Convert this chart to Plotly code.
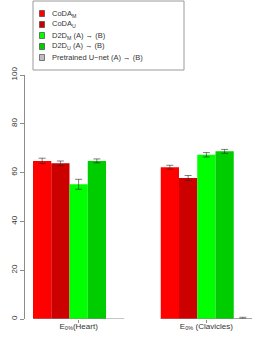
import plotly.graph_objects as go

categories = ["E<sub>0%</sub>(Heart)", "E<sub>0%</sub> (Clavicles)"]
series_names = ["CoDA<sub>M</sub>", "CoDA<sub>U</sub>",
                "D2D<sub>M</sub> (A) → (B)", "D2D<sub>U</sub> (A) → (B)",
                "Pretrained U−net (A) → (B)"]
coda_m = [64.8, 62.2]
coda_u = [63.8, 57.8]
d2d_m = [55.2, 67.3]
d2d_u = [64.8, 68.7]
unet = [None, 0.4]
coda_m_err = [1.1, 0.8]
coda_u_err = [0.95, 1.0]
d2d_m_err = [2.05, 0.9]
d2d_u_err = [0.8, 0.8]
unet_err = [None, 0.3]
y_ticks = [0, 20, 40, 60, 80, 100]

values = [coda_m, coda_u, d2d_m, d2d_u, unet]
errors = [coda_m_err, coda_u_err, d2d_m_err, d2d_u_err, unet_err]
colors = ["#FF0000", "#CD0000", "#00FF00", "#00CD00", "#BEBEBE"]

W, H = 266, 344
L, R, T, B = 25, 252, 75, 319
FONT = "Liberation Sans, Arial, sans-serif"


def px_x(p):
    return (p - L) / (R - L)


def px_y(p):
    return (B - p) / (B - T)


fig = go.Figure()
for name, vals, errs, col in zip(series_names, values, errors, colors):
    fig.add_trace(go.Bar(
        x=categories, y=vals, name=name,
        marker=dict(color=col, line=dict(width=0)),
        error_y=dict(type="data", array=errs, visible=True,
                     color="rgba(40,40,40,0.6)", thickness=1, width=3.5),
        showlegend=False,
    ))

# scale: 7 bar widths per category, 5 bars per group
half = 5 / 14
bar_px = (R - 33) / 12.0
left_unit = -half - (33 - L) / (bar_px * 7)

shapes = []
# separate x axis lines under each group
for i in range(len(categories)):
    shapes.append(dict(type="line", xref="x", yref="y",
                       x0=i - half, x1=i + half, y0=0, y1=0,
                       line=dict(color="#8c8c8c", width=1)))

# legend box
shapes.append(dict(type="rect", xref="paper", yref="paper",
                   x0=px_x(33), x1=px_x(184), y0=px_y(70), y1=px_y(1),
                   line=dict(color="#9a9a9a", width=1), fillcolor="white"))
annotations = []
rows = [13.5, 24.5, 35.5, 46.5, 57.5]
for name, col, ry in zip(series_names, colors, rows):
    shapes.append(dict(type="rect", xref="paper", yref="paper",
                       x0=px_x(39.5), x1=px_x(44.5),
                       y0=px_y(ry + 3), y1=px_y(ry - 3),
                       line=dict(color="#333333", width=0.6), fillcolor=col))
    annotations.append(dict(xref="paper", yref="paper", x=px_x(50), y=px_y(ry),
                            xanchor="left", yanchor="middle", text=name,
                            showarrow=False,
                            font=dict(size=7.5, color="#333333", family=FONT)))

fig.update_layout(
    width=W, height=H,
    margin=dict(l=L, r=W - R, t=T, b=H - B, pad=0, autoexpand=False),
    barmode="group", bargap=2 / 7, bargroupgap=0,
    plot_bgcolor="white", paper_bgcolor="white",
    font=dict(family=FONT, size=8, color="#333333"),
    shapes=shapes, annotations=annotations,
    xaxis=dict(type="category", range=[left_unit, 1 + half],
               automargin=False,
               showline=False, showgrid=False, zeroline=False,
               ticks="outside", ticklen=3, tickcolor="#8c8c8c",
               ticklabelstandoff=-4,
               tickfont=dict(size=8, color="#333333", family=FONT)),
    yaxis=dict(range=[0, 100], tickvals=y_ticks, showgrid=False,
               automargin=False,
               zeroline=False, showline=True, linecolor="#8c8c8c",
               linewidth=1, ticks="outside", ticklen=4,
               ticklabelstandoff=0,
               tickcolor="#8c8c8c", tickangle=-90,
               tickfont=dict(size=8, color="#333333", family=FONT)),
    showlegend=False,
)

fig.write_html("out.html",
               config={"displayModeBar": False},
               post_script="document.body.style.margin='0';"
                           "document.body.style.padding='0';")
